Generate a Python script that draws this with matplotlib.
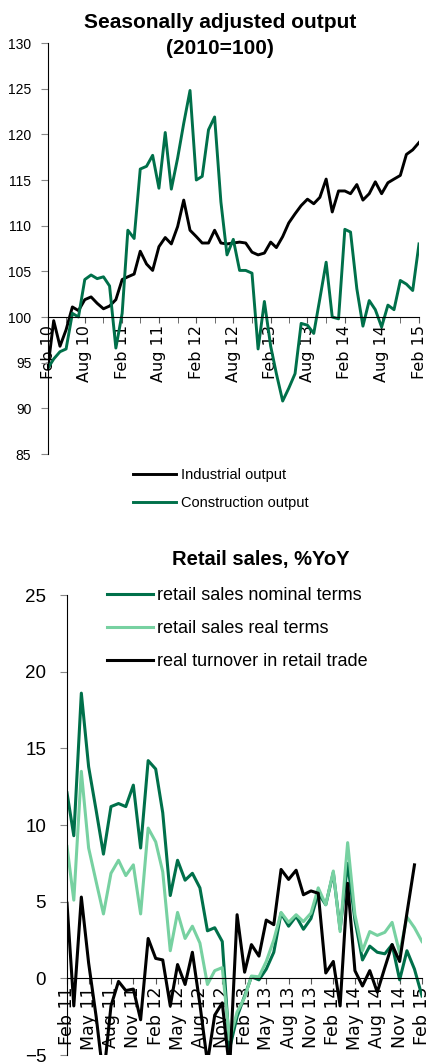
import matplotlib
matplotlib.use('Agg')
import matplotlib.pyplot as plt
import matplotlib.dates as mdates
import pandas as pd
import numpy as np

plt.rcParams['font.family'] = ['Liberation Sans', 'DejaVu Sans']

# seasonally adjusted output (2010=100), monthly Feb 2010 - Feb 2015
months_out = pd.date_range('2010-02-01', '2015-02-01', freq='MS')
industrial = [94.5, 99.6, 96.8, 98.6, 101.1, 100.7, 101.9, 102.2, 101.5, 100.9, 101.2, 101.9,
              104.1, 104.4, 104.7, 107.2, 105.8, 105.1, 107.7, 108.7, 108.0, 109.9, 112.8, 109.5,
              108.8, 108.1, 108.1, 109.5, 108.1, 108.0, 108.1, 108.2, 108.1, 107.1, 106.8, 107.0,
              108.2, 107.6, 108.8, 110.3, 111.3, 112.2, 112.9, 112.4, 113.1, 115.1, 111.5, 113.8,
              113.8, 113.5, 114.5, 112.8, 113.5, 114.8, 113.5, 114.7, 115.1, 115.5, 117.8, 118.3,
              119.1]
construction = [94.4, 95.4, 96.2, 96.5, 100.4, 100.0, 104.1, 104.6, 104.2, 104.4, 103.4, 96.6,
                100.4, 109.5, 108.6, 116.2, 116.5, 117.7, 114.1, 120.2, 114.0, 117.4, 121.2, 124.8,
                115.0, 115.4, 120.5, 121.9, 112.6, 106.8, 108.5, 105.1, 105.1, 104.8, 96.5, 101.7,
                96.8, 93.8, 90.8, 92.2, 93.8, 99.3, 99.1, 98.2, 102.0, 106.0, 100.0, 99.8,
                109.6, 109.3, 103.1, 99.0, 101.8, 100.8, 98.9, 101.3, 100.8, 104.0, 103.6, 102.9,
                108.0]

# retail sales %YoY, monthly Feb 2011 - Feb 2015
months_ret = pd.date_range('2011-02-01', '2015-02-01', freq='MS')
nominal = [12.1, 9.3, 18.6, 13.8, 10.95, 8.1, 11.2, 11.4, 11.2, 12.6, 8.5, 14.2,
           13.65, 10.8, 5.4, 7.7, 6.4, 6.85, 5.9, 3.1, 3.3, 2.4, -4.6, -2.5,
           -1.15, 0.1, -0.1, 0.6, 1.7, 4.25, 3.4, 4.05, 3.2, 3.9, 5.55, 4.8,
           6.9, 3.2, 7.5, 3.8, 1.2, 2.1, 1.7, 1.6, 2.2, -0.1, 1.8, 0.6,
           -1.15]
real = [8.6, 5.1, 13.5, 8.5, 6.3, 4.2, 6.85, 7.7, 6.7, 7.4, 4.2, 9.8,
        8.9, 6.95, 1.8, 4.3, 2.6, 3.4, 2.3, -0.4, 0.5, 0.7, -4.0, -2.2,
        -1.25, 0.15, 0.1, 1.1, 2.5, 4.3, 3.65, 4.15, 3.7, 4.25, 5.9, 4.8,
        7.0, 3.05, 8.85, 4.15, 1.8, 3.05, 2.8, 3.0, 3.65, 1.65, 4.0, 3.3,
        2.4]
turnover = [4.9, -1.8, 5.3, 1.0, -2.5, -6.5, -1.8, -0.2, -0.8, -0.7, -2.7, 2.6,
            1.3, 1.2, -1.8, 0.9, -0.4, 1.7, -1.7, -5.5, -2.4, -1.6, -6.0, 4.15,
            0.4, 2.2, 1.45, 3.8, 3.5, 7.1, 6.45, 7.05, 5.45, 5.7, 5.55, 0.35,
            1.1, -1.8, 6.2, 0.5, -0.5, 0.5, -0.9, 0.7, 2.2, 1.1, 4.25, 7.4,
            np.nan]

dark_green = '#00704A'
light_green = '#77D1A1'
W, H = 429, 1063
fig = plt.figure(figsize=(W / 100, H / 100), dpi=100)

# ---------- top chart ----------
ax1 = fig.add_axes([48 / W, 1 - 454 / H, 371 / W, 411 / H])
ax1.plot(months_out, industrial, color='black', lw=2.1, label='Industrial output')
ax1.plot(months_out, construction, color=dark_green, lw=2.1, label='Construction output')
ax1.set_xlim(months_out[0], months_out[-1])
ax1.set_ylim(85, 130)
ax1.set_yticks(range(85, 131, 5))
for s in ['top', 'right']:
    ax1.spines[s].set_visible(False)
ax1.spines['bottom'].set_position(('data', 100))
ax1.xaxis.set_major_locator(mdates.MonthLocator(bymonth=[2, 8]))
ax1.xaxis.set_minor_locator(mdates.MonthLocator(bymonth=[2, 5, 8, 11]))
ax1.xaxis.set_major_formatter(mdates.DateFormatter('%b %y'))
ax1.tick_params(axis='x', which='both', direction='out', length=4, color='#555555')
ax1.tick_params(axis='x', which='major', labelrotation=90, pad=2,
                labelsize=11.5, labelfontfamily='DejaVu Sans')
ax1.tick_params(axis='y', direction='out', length=5, color='#888888', pad=7, labelsize=10)
ax1.legend(loc='upper left', bbox_to_anchor=(133 / W, 1 - 468 / H), bbox_transform=fig.transFigure,
           frameon=False, handlelength=2.95, handletextpad=0.35, labelspacing=0.95,
           borderpad=0, borderaxespad=0, prop={'size': 10.5})
fig.text(220 / W, 1 - 28 / H, 'Seasonally adjusted output', ha='center', va='baseline',
         fontsize=15, fontweight='bold')
fig.text(220 / W, 1 - 54 / H, '(2010=100)', ha='center', va='baseline',
         fontsize=15, fontweight='bold')

# ---------- bottom chart ----------
ax2 = fig.add_axes([67 / W, 1 - 1055 / H, 355 / W, 460 / H])
ax2.plot(months_ret, nominal, color=dark_green, lw=2.2, label='retail sales nominal terms')
ax2.plot(months_ret, real, color=light_green, lw=2.2, label='retail sales real terms')
ax2.plot(months_ret, turnover, color='black', lw=2.2, label='real turnover in retail trade')
ax2.set_xlim(months_ret[0], months_ret[-1])
ax2.set_ylim(-5, 25)
ax2.set_yticks(range(-5, 26, 5))
for s in ['top', 'right']:
    ax2.spines[s].set_visible(False)
ax2.spines['bottom'].set_position(('data', 0))
ax2.xaxis.set_major_locator(mdates.MonthLocator(bymonth=[2, 5, 8, 11]))
ax2.xaxis.set_major_formatter(mdates.DateFormatter('%b %y'))
ax2.tick_params(axis='x', direction='out', length=4, color='#555555', labelrotation=90, pad=2,
                labelsize=12.5, labelfontfamily='DejaVu Sans')
ax2.tick_params(axis='y', direction='out', length=5, color='#888888', pad=10, labelsize=13.5)
ax2.legend(loc='upper left', bbox_to_anchor=(107 / W, 1 - 587 / H), bbox_transform=fig.transFigure,
           frameon=False, handlelength=2.55, handletextpad=0.22, labelspacing=0.9,
           borderpad=0, borderaxespad=0, prop={'size': 13})
fig.text(261 / W, 1 - 565 / H, 'Retail sales, %YoY', ha='center', va='baseline',
         fontsize=14.5, fontweight='bold')

fig.savefig('out.png', dpi=100)
